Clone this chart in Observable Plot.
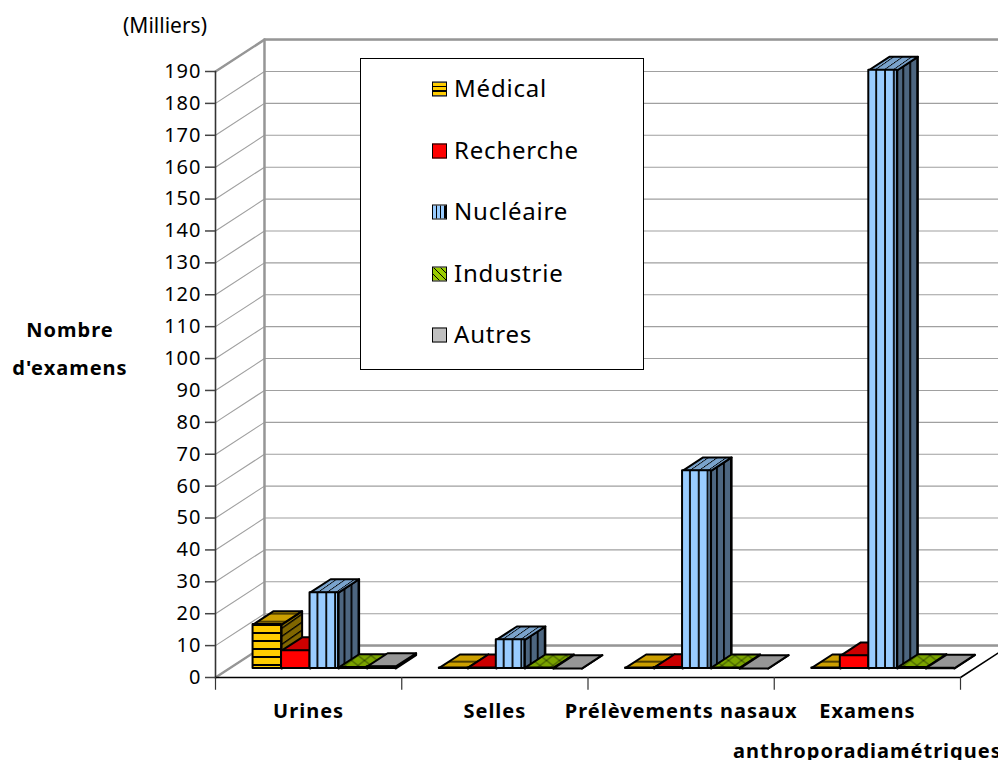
<!DOCTYPE html>
<html lang="fr">
<head>
<meta charset="utf-8">
<script src="https://cdn.jsdelivr.net/npm/d3@7"></script>
<script src="https://cdn.jsdelivr.net/npm/@observablehq/plot@0.6"></script>
<style>
html,body{margin:0;padding:0;background:#fff;}
#wrap{position:relative;width:998px;height:760px;overflow:hidden;font-family:"Noto Sans",sans-serif;color:#000;}
#wrap svg{display:block;}
.lab{position:absolute;transform:translate(-50%,-50%);white-space:nowrap;}
#legend{position:absolute;left:360px;top:58px;width:282px;height:310px;background:#fff;border:1px solid #000;}
.row{position:absolute;left:71px;display:flex;align-items:center;gap:7px;font-size:24px;letter-spacing:0.8px;transform:translateY(-50%);}
.row .t{position:relative;top:-2px;}
.sw{width:13px;height:13px;border:1.5px solid #000;display:block;}
</style>
</head>
<body>
<div id="wrap"></div>
<script>
const categories = ["Urines", "Selles", "Prélèvements nasaux", "Examens\nanthroporadiamétriques"];
const seriesNames = ["Médical", "Recherche", "Nucléaire", "Industrie", "Autres"];
const medical = [13.8, 0.2, 0.2, 0.2];
const recherche = [5.6, 0.2, 0.3, 4];
const nucleaire = [23.8, 9, 62, 187.6];
const industrie = [0.3, 0.2, 0.2, 0.3];
const autres = [0.6, 0, 0, 0.1];
const seriesValues = [medical, recherche, nucleaire, industrie, autres];
const tickValues = d3.range(0, 200, 10);
const tickCats = [0, 1, 2, 3, 4];

// Pseudo-3D projection, in data units: depth d (0 front, 1 back) moves a point along both scales
const depthX = 0.263, depthY = 10;
const px = (c, d) => c + depthX * d;
const py = (v, d) => v + depthY * d;
const front = 0.28, back = 0.70, gap = 0.128, barW = 0.153;
const greyStroke = {stroke: "#969696", strokeWidth: 2.5};
const path3d = (pts) => pts.map(([c, v, d]) => ({x: px(c, d), y: py(v, d)}));
const poly = (pts, o) => Plot.line(path3d(pts), {x: "x", y: "y", ...o});

const faces = [
  {front: "url(#fMed)", top: "url(#tMed)", side: "url(#sMed)"},
  {front: "#ff0000", top: "#cc0000", side: "#800000"},
  {front: "url(#fBlue)", top: "url(#tBlue)", side: "url(#sBlue)"},
  {front: "url(#fGreen)", top: "url(#tGreen)", side: "#4d6600"},
  {front: "#c0c0c0", top: "#969696", side: "#606060"}
];

function defs() {
  const g = d3.create("svg:g");
  g.html(`<defs>
  <pattern id="fMed" patternUnits="userSpaceOnUse" width="8" height="8"><rect width="8" height="8" fill="#ffcc00"/><rect width="8" height="2" fill="#000"/></pattern>
  <pattern id="tMed" patternUnits="userSpaceOnUse" width="8" height="8"><rect width="8" height="8" fill="#cc9f00"/><rect y="4.6" width="8" height="1.2" fill="#000"/></pattern>
  <pattern id="sMed" patternUnits="userSpaceOnUse" width="8" height="8" patternTransform="skewY(-35)"><rect width="8" height="8" fill="#806600"/><rect width="8" height="1.6" fill="#000"/></pattern>
  <pattern id="fBlue" width="0.31" height="1"><rect width="40" height="800" fill="#99ccff"/><rect x="7" width="1.8" height="800" fill="#000"/></pattern>
  <pattern id="sBlue" width="0.34" height="1"><rect width="40" height="800" fill="#4d6680"/><rect x="5" width="1.8" height="800" fill="#000"/></pattern>
  <pattern id="tBlue" patternUnits="userSpaceOnUse" width="9" height="9" patternTransform="skewX(-55)"><rect width="9" height="9" fill="#7aa3cc"/><rect x="1" width="1.3" height="9" fill="#000"/></pattern>
  <pattern id="fGreen" patternUnits="userSpaceOnUse" width="12" height="12"><rect width="12" height="12" fill="#99cc00"/><path d="M0 0L12 12M12 0L0 12" stroke="#000"/></pattern>
  <pattern id="tGreen" patternUnits="userSpaceOnUse" width="13" height="10"><rect width="13" height="10" fill="#7aa300"/><path d="M0 0L13 10M13 0L0 10" stroke="#223300" stroke-width="0.9"/></pattern>
  </defs>`);
  return g.node();
}

const gridMarks = tickValues.map(v =>
  poly([[0, v, 0], [0, v, 1], [4, v, 1]], {stroke: "#a0a0a0", strokeWidth: 1.1}));

const wallMarks = [
  poly([[0, 190, 0], [0, 190, 1], [4, 190, 1]], greyStroke),
  poly([[0, 0, 1], [0, 190, 1]], greyStroke),
  poly([[0, 0, 0], [0, 0, 1], [4, 0, 1]], greyStroke),
  poly([[0, 0, 0], [0, 190, 0]], {stroke: "#333", strokeWidth: 1.6}),
  poly([[0, 0, 0], [4, 0, 0], [4, 0, 1]], {stroke: "#000", strokeWidth: 1.5})
];

const barMarks = categories.flatMap((_, ci) => seriesNames.flatMap((_, si) => {
  const v = seriesValues[si][ci];
  const c0 = ci + gap + si * barW, c1 = c0 + barW;
  const line = {stroke: "#000", strokeWidth: 2, strokeLinejoin: "round"};
  return [
    poly([[c1, 0, front], [c1, 0, back], [c1, v, back], [c1, v, front], [c1, 0, front]], {fill: faces[si].side, ...line}),
    poly([[c0, v, front], [c0, v, back], [c1, v, back], [c1, v, front], [c0, v, front]], {fill: faces[si].top, ...line}),
    Plot.rect([{v}], {
      x1: () => px(c0, front), x2: () => px(c1, front),
      y1: () => py(0, front), y2: d => py(d.v, front),
      fill: faces[si].front, ...line
    })
  ];
}));

const plot = Plot.plot({
  width: 998, height: 760,
  marginLeft: 215, marginRight: 38, marginTop: 71, marginBottom: 83,
  style: {background: "#fff", fontFamily: "'Noto Sans',sans-serif", color: "#000", overflow: "hidden", letterSpacing: "1px"},
  x: {type: "linear", domain: [0, 4], axis: null},
  y: {type: "linear", domain: [0, 190], axis: null},
  marks: [
    defs,
    ...gridMarks,
    ...wallMarks,
    Plot.axisY({ticks: tickValues, tickFormat: d => String(d), anchor: "left", label: null, tickSize: 10, tickPadding: 4, fontSize: 20, stroke: "#444", strokeWidth: 1.5}),
    Plot.ruleX(tickCats, {x: d => d, y1: 0, y2: -4, stroke: "#333", strokeWidth: 1.2}),
    ...barMarks,
    Plot.text(categories, {
      x: (_, i) => i + 0.5, y: 0, text: d => d, dy: 12, lineAnchor: "top", lineHeight: 2,
      fontSize: 20, fontWeight: 700, fill: "#000"
    })
  ]
});

const wrap = document.getElementById("wrap");
wrap.appendChild(plot);

const addLab = (t, x, y, css) => {
  const e = document.createElement("div");
  e.className = "lab"; e.textContent = t;
  e.style.cssText = `left:${x}px;top:${y}px;${css}`;
  wrap.appendChild(e);
};
addLab("(Milliers)", 165, 25, "font-size:21px;");
addLab("Nombre", 70, 329, "font-size:20px;font-weight:700;letter-spacing:1px;");
addLab("d'examens", 70, 367, "font-size:20px;font-weight:700;letter-spacing:1px;");

const swatchCss = [
  "background:repeating-linear-gradient(180deg,#ffcc00 0 3px,#000 3px 4.5px)",
  "background:#ff0000",
  "background:repeating-linear-gradient(90deg,#99ccff 0 3px,#000 3px 4.2px)",
  "background:repeating-linear-gradient(45deg,#99cc00 0 4px,#000 4px 5px)",
  "background:#c0c0c0"
];
const rowY = [30, 92, 153, 215, 276];
const legend = document.createElement("div");
legend.id = "legend";
seriesNames.forEach((s, i) => {
  const r = document.createElement("div");
  r.className = "row"; r.style.top = rowY[i] + "px";
  r.innerHTML = `<span class="sw" style="${swatchCss[i]}"></span><span class="t">${s}</span>`;
  legend.appendChild(r);
});
wrap.appendChild(legend);
</script>
</body>
</html>
